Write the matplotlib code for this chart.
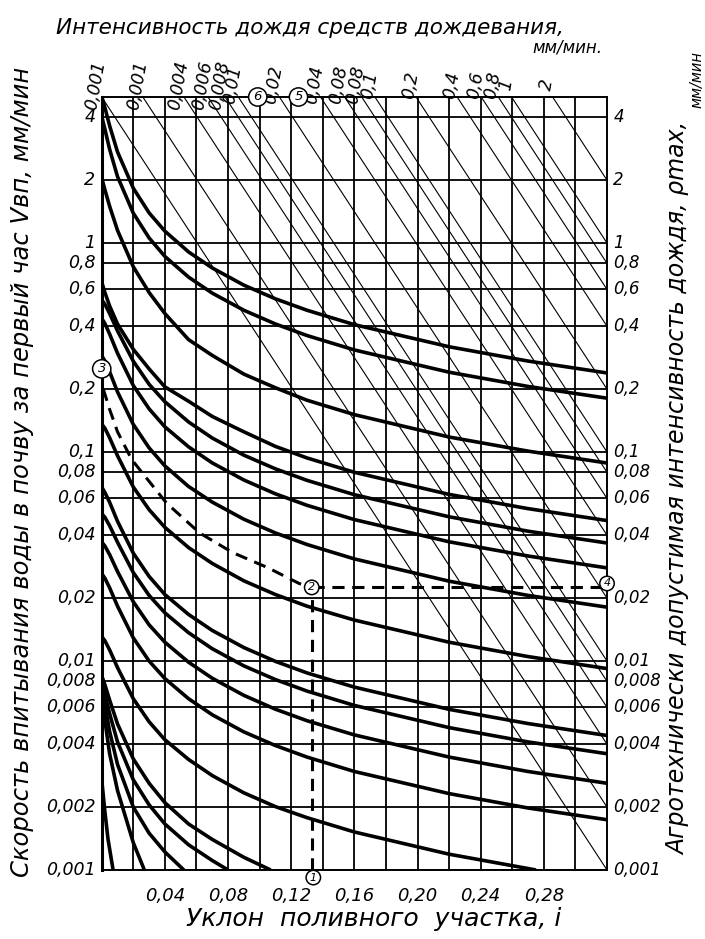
import numpy as np
import matplotlib.pyplot as plt

# ---- grid of the nomogram
i_max = 0.32
v_min, v_max = 0.001, 5.0
v_grid = [4, 2, 1, 0.8, 0.6, 0.4, 0.2, 0.1, 0.08, 0.06, 0.04, 0.02,
          0.01, 0.008, 0.006, 0.004, 0.002, 0.001]
v_labels = ["4", "2", "1", "0,8", "0,6", "0,4", "0,2", "0,1", "0,08", "0,06", "0,04",
            "0,02", "0,01", "0,008", "0,006", "0,004", "0,002", "0,001"]
i_grid = [0.02 * k for k in range(1, 16)]
i_ticks = [0.04, 0.08, 0.12, 0.16, 0.20, 0.24, 0.28]
i_labels = ["0,04", "0,08", "0,12", "0,16", "0,20", "0,24", "0,28"]

# ---- rain intensity of sprinklers (diagonals), value where each meets the right axis
rho_lines = [0.001, 0.002, 0.004, 0.006, 0.008, 0.01, 0.02, 0.04, 0.06, 0.08,
             0.1, 0.2, 0.4, 0.6, 0.8, 1, 2]
rho_labels = ["0,001", "0,001", "0,004", "0,006", "0,008", "0,01", "0,02", "0,04",
              "0,08", "0,08", "0,1", "0,2", "0,4", "0,6", "0,8", "1", "2"]

# ---- curves reaching the right axis (read at common slopes)
slope_grid = [0, 0.002, 0.005, 0.01, 0.02, 0.03, 0.04, 0.055, 0.07, 0.09,
              0.11, 0.13, 0.16, 0.22, 0.27, 0.32]
upper_rates = [
    [5.03, 4.45, 3.64, 2.73, 1.83, 1.395, 1.14, 0.907, 0.76, 0.629, 0.541, 0.477, 0.407, 0.319, 0.2725, 0.239],
    [4.04, 3.51, 2.81, 2.08, 1.39, 1.058, 0.863, 0.687, 0.576, 0.477, 0.41, 0.361, 0.308, 0.241, 0.206, 0.181],
    [2.05, 1.8, 1.5, 1.15, 0.77, 0.58, 0.46, 0.345, 0.29, 0.236, 0.203, 0.177, 0.151, 0.118, 0.101, 0.0886],
    [0.65, 0.58, 0.5, 0.41, 0.31, 0.25, 0.205, 0.175, 0.148, 0.125, 0.1064, 0.0937, 0.08, 0.0627, 0.0536, 0.047],
    [0.535, 0.51, 0.46, 0.38, 0.272, 0.211, 0.174, 0.1393, 0.1167, 0.0966, 0.0831, 0.0732, 0.0625, 0.049, 0.0418, 0.0367],
    [0.436, 0.412, 0.367, 0.297, 0.208, 0.161, 0.132, 0.1059, 0.0887, 0.0735, 0.0631, 0.0556, 0.0475, 0.0372, 0.0318, 0.0279],
    [0.289, 0.273, 0.242, 0.194, 0.1355, 0.1047, 0.0858, 0.0684, 0.0576, 0.0477, 0.041, 0.0361, 0.0308, 0.0241, 0.0206, 0.0181],
    [0.136, 0.130, 0.117, 0.096, 0.068, 0.053, 0.0436, 0.0349, 0.0293, 0.0242, 0.0208, 0.0183, 0.0157, 0.0123, 0.0105, 0.0092],
    [0.068, 0.064, 0.0575, 0.0466, 0.0328, 0.0254, 0.0208, 0.0167, 0.014, 0.0116, 0.00996, 0.00877, 0.0075, 0.00587, 0.00502, 0.0044],
    [0.0507, 0.0487, 0.0444, 0.037, 0.0265, 0.0206, 0.017, 0.01366, 0.01145, 0.00948, 0.00815, 0.00718, 0.00613, 0.0048, 0.0041, 0.0036],
    [0.0371, 0.0355, 0.0323, 0.0268, 0.0192, 0.0149, 0.0123, 0.00987, 0.00827, 0.00685, 0.00588, 0.00518, 0.00443, 0.00347, 0.00296, 0.0026],
    [0.0262, 0.0249, 0.0224, 0.0183, 0.0129, 0.01, 0.00824, 0.0066, 0.00553, 0.00458, 0.00394, 0.00347, 0.00296, 0.00232, 0.00198, 0.00174],
]

# ---- curves running out through the bottom axis
lower_slopes = [
    [0, 0.002, 0.005, 0.01, 0.02, 0.03, 0.04, 0.055, 0.07, 0.09, 0.11, 0.13, 0.16, 0.22, 0.275],
    [0, 0.002, 0.005, 0.01, 0.02, 0.03, 0.04, 0.055, 0.07, 0.09, 0.107],
    [0, 0.002, 0.005, 0.01, 0.02, 0.03, 0.04, 0.055, 0.07, 0.08],
    [0, 0.002, 0.005, 0.01, 0.02, 0.03, 0.04, 0.052],
    [0, 0.002, 0.005, 0.01, 0.015, 0.02, 0.027],
    [0, 0.002, 0.004, 0.0072],
]
lower_rates = [
    [0.0131, 0.0125, 0.0113, 0.0093, 0.0066, 0.00512, 0.0042, 0.00338, 0.00283, 0.00234, 0.00201, 0.00178, 0.00152, 0.00119, 0.001],
    [0.0085, 0.0077, 0.0065, 0.005, 0.0034, 0.0026, 0.0021, 0.00166, 0.0014, 0.00115, 0.001],
    [0.008, 0.0069, 0.0056, 0.0041, 0.0027, 0.00205, 0.00166, 0.00132, 0.00111, 0.001],
    [0.0078, 0.0062, 0.0046, 0.0032, 0.002, 0.0015, 0.00122, 0.001],
    [0.0075, 0.0052, 0.0036, 0.0024, 0.0018, 0.00135, 0.001],
    [0.0027, 0.0019, 0.0014, 0.001],
]

# ---- worked example (dashed)
example_i = [0.001, 0.005, 0.01, 0.019, 0.041, 0.062, 0.083, 0.105, 0.125, 0.133]
example_v = [0.2, 0.16, 0.125, 0.092, 0.057, 0.041, 0.033, 0.028, 0.0235, 0.0225]
ex_slope, ex_rho = 0.133, 0.0225
marks = {"1": (0.134, 0.00092), "2": (0.133, 0.0225), "3": (0.0, 0.25),
         "4": (0.32, 0.0235), "5": (0.1246, 5.0), "6": (0.0988, 5.0)}

ital = dict(fontstyle="italic", family="DejaVu Sans")

fig = plt.figure(figsize=(7.05, 9.39), dpi=100)
ax = fig.add_axes([0.1443, 0.0735, 0.7167, 0.8232])
ax.set_yscale("log")
ax.set_xlim(0, i_max)
ax.set_ylim(v_min, v_max)
ax.set_xticks([])
ax.set_yticks([])
ax.minorticks_off()
for s in ax.spines.values():
    s.set_linewidth(1.4)
ax.spines["left"].set_linewidth(2.2)

for v in v_grid:
    ax.axhline(v, color="black", lw=1.3, zorder=1)
for x in i_grid:
    ax.axvline(x, color="black", lw=1.3, zorder=1)

# diagonals: straight in (i, log V), all parallel, from top edge to the right axis
k = np.log10(v_max / v_min) / i_max
for r in rho_lines:
    i_top = i_max - np.log10(v_max / r) / k
    ax.plot([i_top, i_max], [v_max, r], color="black", lw=0.8, zorder=1)

for vs in upper_rates:
    ax.plot(slope_grid, vs, color="black", lw=2.6, zorder=3, solid_capstyle="butt")
for xs, vs in zip(lower_slopes, lower_rates):
    ax.plot(xs, vs, color="black", lw=2.6, zorder=3, solid_capstyle="butt")

dash = (0, (4, 2.5))
ax.plot(example_i, example_v, color="black", lw=2.2, ls=dash, zorder=4)
ax.plot([ex_slope, ex_slope], [v_min, ex_rho], color="black", lw=2.2, ls=dash, zorder=4)
ax.plot([ex_slope, i_max], [ex_rho, ex_rho], color="black", lw=2.2, ls=dash, zorder=4)

for name, (x, y) in marks.items():
    fs = 9.5 if name in "356" else 8
    ax.text(x, y, name, ha="center", va="center", fontsize=fs, zorder=6, clip_on=False,
            bbox=dict(boxstyle="circle,pad=0.2", fc="white", ec="black", lw=1.1), **ital)

# tick labels
for v, lab in zip(v_grid, v_labels):
    ax.text(-0.004, v, lab, ha="right", va="center", fontsize=12.5, **ital)
    ax.text(i_max + 0.004, v, lab, ha="left", va="center", fontsize=12, **ital)
for x, lab in zip(i_ticks, i_labels):
    ax.text(x, 0.00075, lab, ha="center", va="center", fontsize=13, **ital)
for r, lab in zip(rho_lines, rho_labels):
    i_top = i_max - np.log10(v_max / r) / k
    ax.text(i_top + 0.002, 5.6, lab, ha="center", va="bottom", rotation=80,
            fontsize=12.5, rotation_mode="anchor", **ital)

fig.text(0.44, 0.97, "Интенсивность дождя средств дождевания,", ha="center", va="center",
         fontsize=15.5, **ital)
fig.text(0.805, 0.949, "мм/мин.", ha="center", va="center", fontsize=12, **ital)
fig.text(0.53, 0.021, "Уклон  поливного  участка, i", ha="center", va="center",
         fontsize=18, **ital)
fig.text(0.031, 0.497, "Скорость впитывания воды в почву за первый час Vвп, мм/мин",
         rotation=90, ha="center", va="center", fontsize=17.5, **ital)
fig.text(0.962, 0.48, "Агротехнически допустимая интенсивность дождя, ρmax,",
         rotation=90, ha="center", va="center", fontsize=17, **ital)
fig.text(0.988, 0.915, "мм/мин", rotation=90, ha="center", va="center", fontsize=10.5, **ital)

fig.savefig("out.png", dpi=100)
